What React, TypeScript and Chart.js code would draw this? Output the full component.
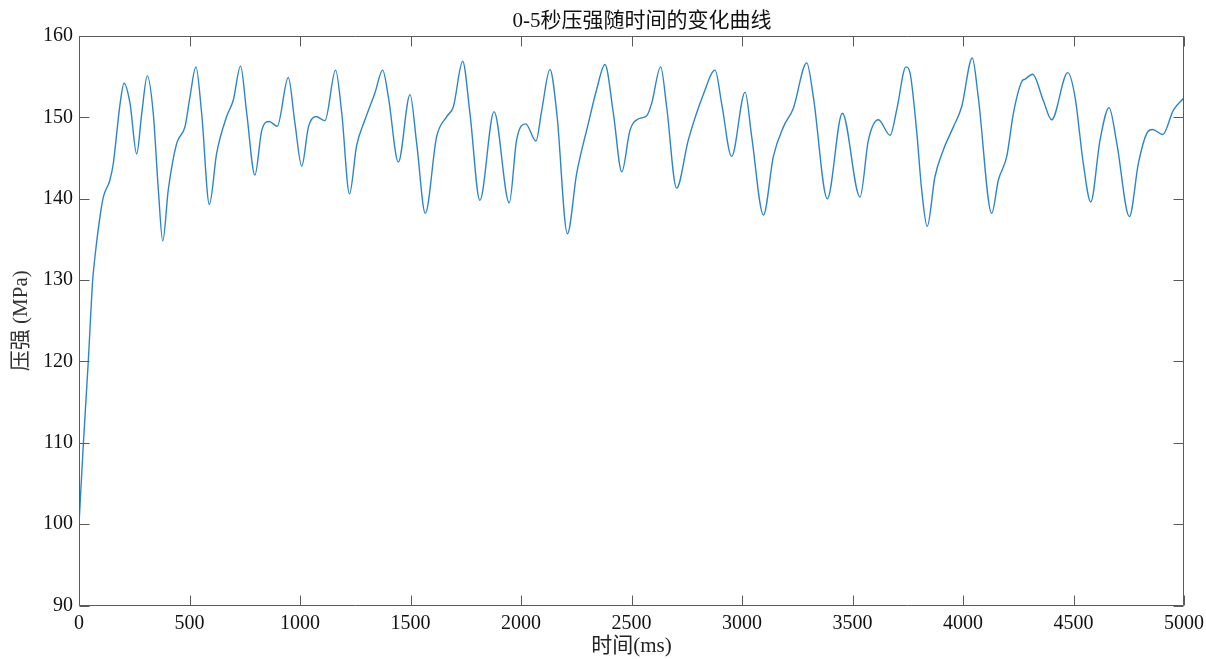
import React, { useEffect, useRef } from "react";
import { Chart, registerables } from "chart.js";

Chart.register(...registerables);

// ---- Data ----
const timesMs: number[] = [
  0, 20, 42, 62, 72, 95, 110, 140, 155, 186, 204, 231, 261, 284, 309, 336, 359, 379, 404, 442,
  480, 502, 529, 555, 590, 623, 668, 698, 731, 759, 796, 827, 861, 897, 947, 977, 1008, 1038,
  1072, 1113, 1161, 1189, 1224, 1256, 1294, 1339, 1374, 1400, 1445, 1498, 1528, 1567, 1618,
  1664, 1694, 1736, 1769, 1814, 1878, 1947, 1980, 2021, 2068, 2094, 2131, 2162, 2210, 2252,
  2305, 2342, 2380, 2418, 2456, 2493, 2530, 2569, 2591, 2632, 2659, 2704, 2757, 2825, 2878,
  2908, 2953, 3014, 3044, 3097, 3142, 3187, 3232, 3293, 3323, 3386, 3454, 3534, 3572, 3617,
  3670, 3700, 3742, 3760, 3790, 3813, 3838, 3873, 3911, 3956, 3994, 4042, 4069, 4130, 4160,
  4198, 4228, 4266, 4281, 4315, 4363, 4401, 4474, 4507, 4544, 4578, 4620, 4661, 4696, 4753,
  4794, 4831, 4858, 4904, 4952, 5000,
];

const pressureMPa: number[] = [
  100, 110, 120, 130, 132.8, 137.8, 140.2, 142.3, 144.3, 151.7, 154.2, 151.7, 145.5, 150.5, 155.1, 150.5, 141.1, 134.8, 141.1, 146.8,
  148.9, 152.5, 156.2, 150.5, 139.3, 145.6, 150.1, 152.1, 156.3, 150.5, 142.9, 148.4, 149.5, 148.9, 154.9, 149.3, 144.0, 148.8,
  150.1, 149.6, 155.8, 150.5, 140.6, 146.5, 149.7, 153.0, 155.8, 152.5, 144.5, 152.8, 146.8, 138.2, 147.6,
  150.1, 151.3, 156.9, 150.5, 139.8, 150.7, 139.5, 147.2, 149.2, 147.1, 150.9, 155.9, 150.5, 135.7, 143.1,
  149.3, 153.4, 156.5, 150.5, 143.3, 148.4, 149.8, 150.2, 151.7, 156.2, 151.3, 141.3, 147.2, 152.8, 155.8,
  151.7, 145.2, 153.1, 147.6, 138.0, 145.2, 148.8, 151.1, 156.7, 152.5, 140.0, 150.5, 140.2, 147.2, 149.7,
  147.8, 150.9, 156.2, 155.5, 148.4, 141.1, 136.6, 142.7, 146.0, 148.8, 151.3, 157.3, 152.5, 138.2, 142.3,
  145.2, 150.5, 154.4, 154.7, 155.3, 152.1, 149.7, 155.5, 152.5, 144.4, 139.6, 147.2, 151.2, 146.8, 137.8,
  144.4, 148.0, 148.5, 147.9, 150.9, 152.4,
];

const xTickValues: number[] = [0, 500, 1000, 1500, 2000, 2500, 3000, 3500, 4000, 4500, 5000];
const yTickValues: number[] = [90, 100, 110, 120, 130, 140, 150, 160];

const titleText = "0-5秒压强随时间的变化曲线";
const xLabel = "时间(ms)";
const yLabel = "压强 (MPa)";

const FONT = "'Liberation Serif', 'Times New Roman', 'Noto Sans CJK SC', serif";

const matlabBoxPlugin = {
  id: "matlabBox",
  afterDraw(chart: any) {
    const { ctx, chartArea, scales } = chart;
    const left = Math.round(chartArea.left) + 0.5;
    const right = Math.round(chartArea.right) - 0.5;
    const top = Math.round(chartArea.top) + 0.5;
    const bottom = Math.round(chartArea.bottom) - 0.5;
    const tickLen = 10;
    ctx.save();
    ctx.strokeStyle = "#5a5a5a";
    ctx.lineWidth = 1;
    ctx.beginPath();
    ctx.rect(left, top, right - left, bottom - top);
    ctx.stroke();
    ctx.beginPath();
    xTickValues.forEach((v) => {
      const px = Math.round(scales.x.getPixelForValue(v)) + 0.5;
      ctx.moveTo(px, bottom);
      ctx.lineTo(px, bottom - tickLen);
      ctx.moveTo(px, top);
      ctx.lineTo(px, top + tickLen);
    });
    yTickValues.forEach((v) => {
      const py = Math.round(scales.y.getPixelForValue(v)) + 0.5;
      ctx.moveTo(left, py);
      ctx.lineTo(left + tickLen, py);
      ctx.moveTo(right, py);
      ctx.lineTo(right - tickLen, py);
    });
    ctx.stroke();

    ctx.fillStyle = "#111111";
    ctx.font = `21px ${FONT}`;
    ctx.textAlign = "center";
    ctx.textBaseline = "middle";
    ctx.fillText(titleText, 642, 21);
    ctx.restore();
  },
};

export default function App() {
  const canvasRef = useRef<HTMLCanvasElement | null>(null);

  useEffect(() => {
    const canvas = canvasRef.current;
    if (!canvas) return;
    const points = timesMs.map((t, i) => ({ x: t, y: pressureMPa[i] }));
    const chart = new Chart(canvas, {
      type: "line",
      data: {
        datasets: [
          {
            label: "压强",
            data: points,
            borderColor: "#2a86c6",
            borderWidth: 1.4,
            pointRadius: 0,
            fill: false,
            cubicInterpolationMode: "monotone",
          },
        ],
      },
      options: {
        animation: false,
        responsive: false,
        devicePixelRatio: 1,
        layout: { padding: { left: 0, top: 36, right: 22, bottom: 0 } },
        plugins: {
          legend: { display: false },
          tooltip: { enabled: false },
          title: { display: false },
        },
        scales: {
          x: {
            type: "linear",
            min: 0,
            max: 5000,
            afterBuildTicks: (s: any) => {
              s.ticks = xTickValues.map((v) => ({ value: v }));
            },
            afterFit: (s: any) => {
              s.height = 53.5;
              s.paddingLeft = 0;
              s.paddingRight = 0;
            },
            grid: { display: false, drawTicks: false },
            border: { display: false },
            ticks: {
              autoSkip: false,
              maxRotation: 0,
              padding: 6,
              color: "#111111",
              font: { family: FONT, size: 20 },
              callback: (v: any) => String(v),
            },
            title: {
              display: true,
              text: xLabel,
              color: "#222222",
              font: { family: FONT, size: 21 },
              padding: { top: 0, bottom: 0 },
            },
          },
          y: {
            type: "linear",
            min: 90,
            max: 160,
            afterBuildTicks: (s: any) => {
              s.ticks = yTickValues.map((v) => ({ value: v }));
            },
            afterFit: (s: any) => {
              s.width = 79;
              s.paddingTop = 0;
              s.paddingBottom = 0;
            },
            grid: { display: false, drawTicks: false },
            border: { display: false },
            ticks: {
              autoSkip: false,
              padding: 6,
              color: "#111111",
              font: { family: FONT, size: 20 },
              callback: (v: any) => String(v),
            },
            title: {
              display: true,
              text: yLabel,
              color: "#333333",
              font: { family: FONT, size: 21 },
              padding: { top: 9, bottom: 0 },
            },
          },
        },
      },
      plugins: [matlabBoxPlugin],
    });
    return () => chart.destroy();
  }, []);

  return (
    <div style={{ position: "fixed", left: 0, top: 0, width: 1206, height: 659, background: "#ffffff" }}>
      <canvas ref={canvasRef} width={1206} height={659} />
    </div>
  );
}
